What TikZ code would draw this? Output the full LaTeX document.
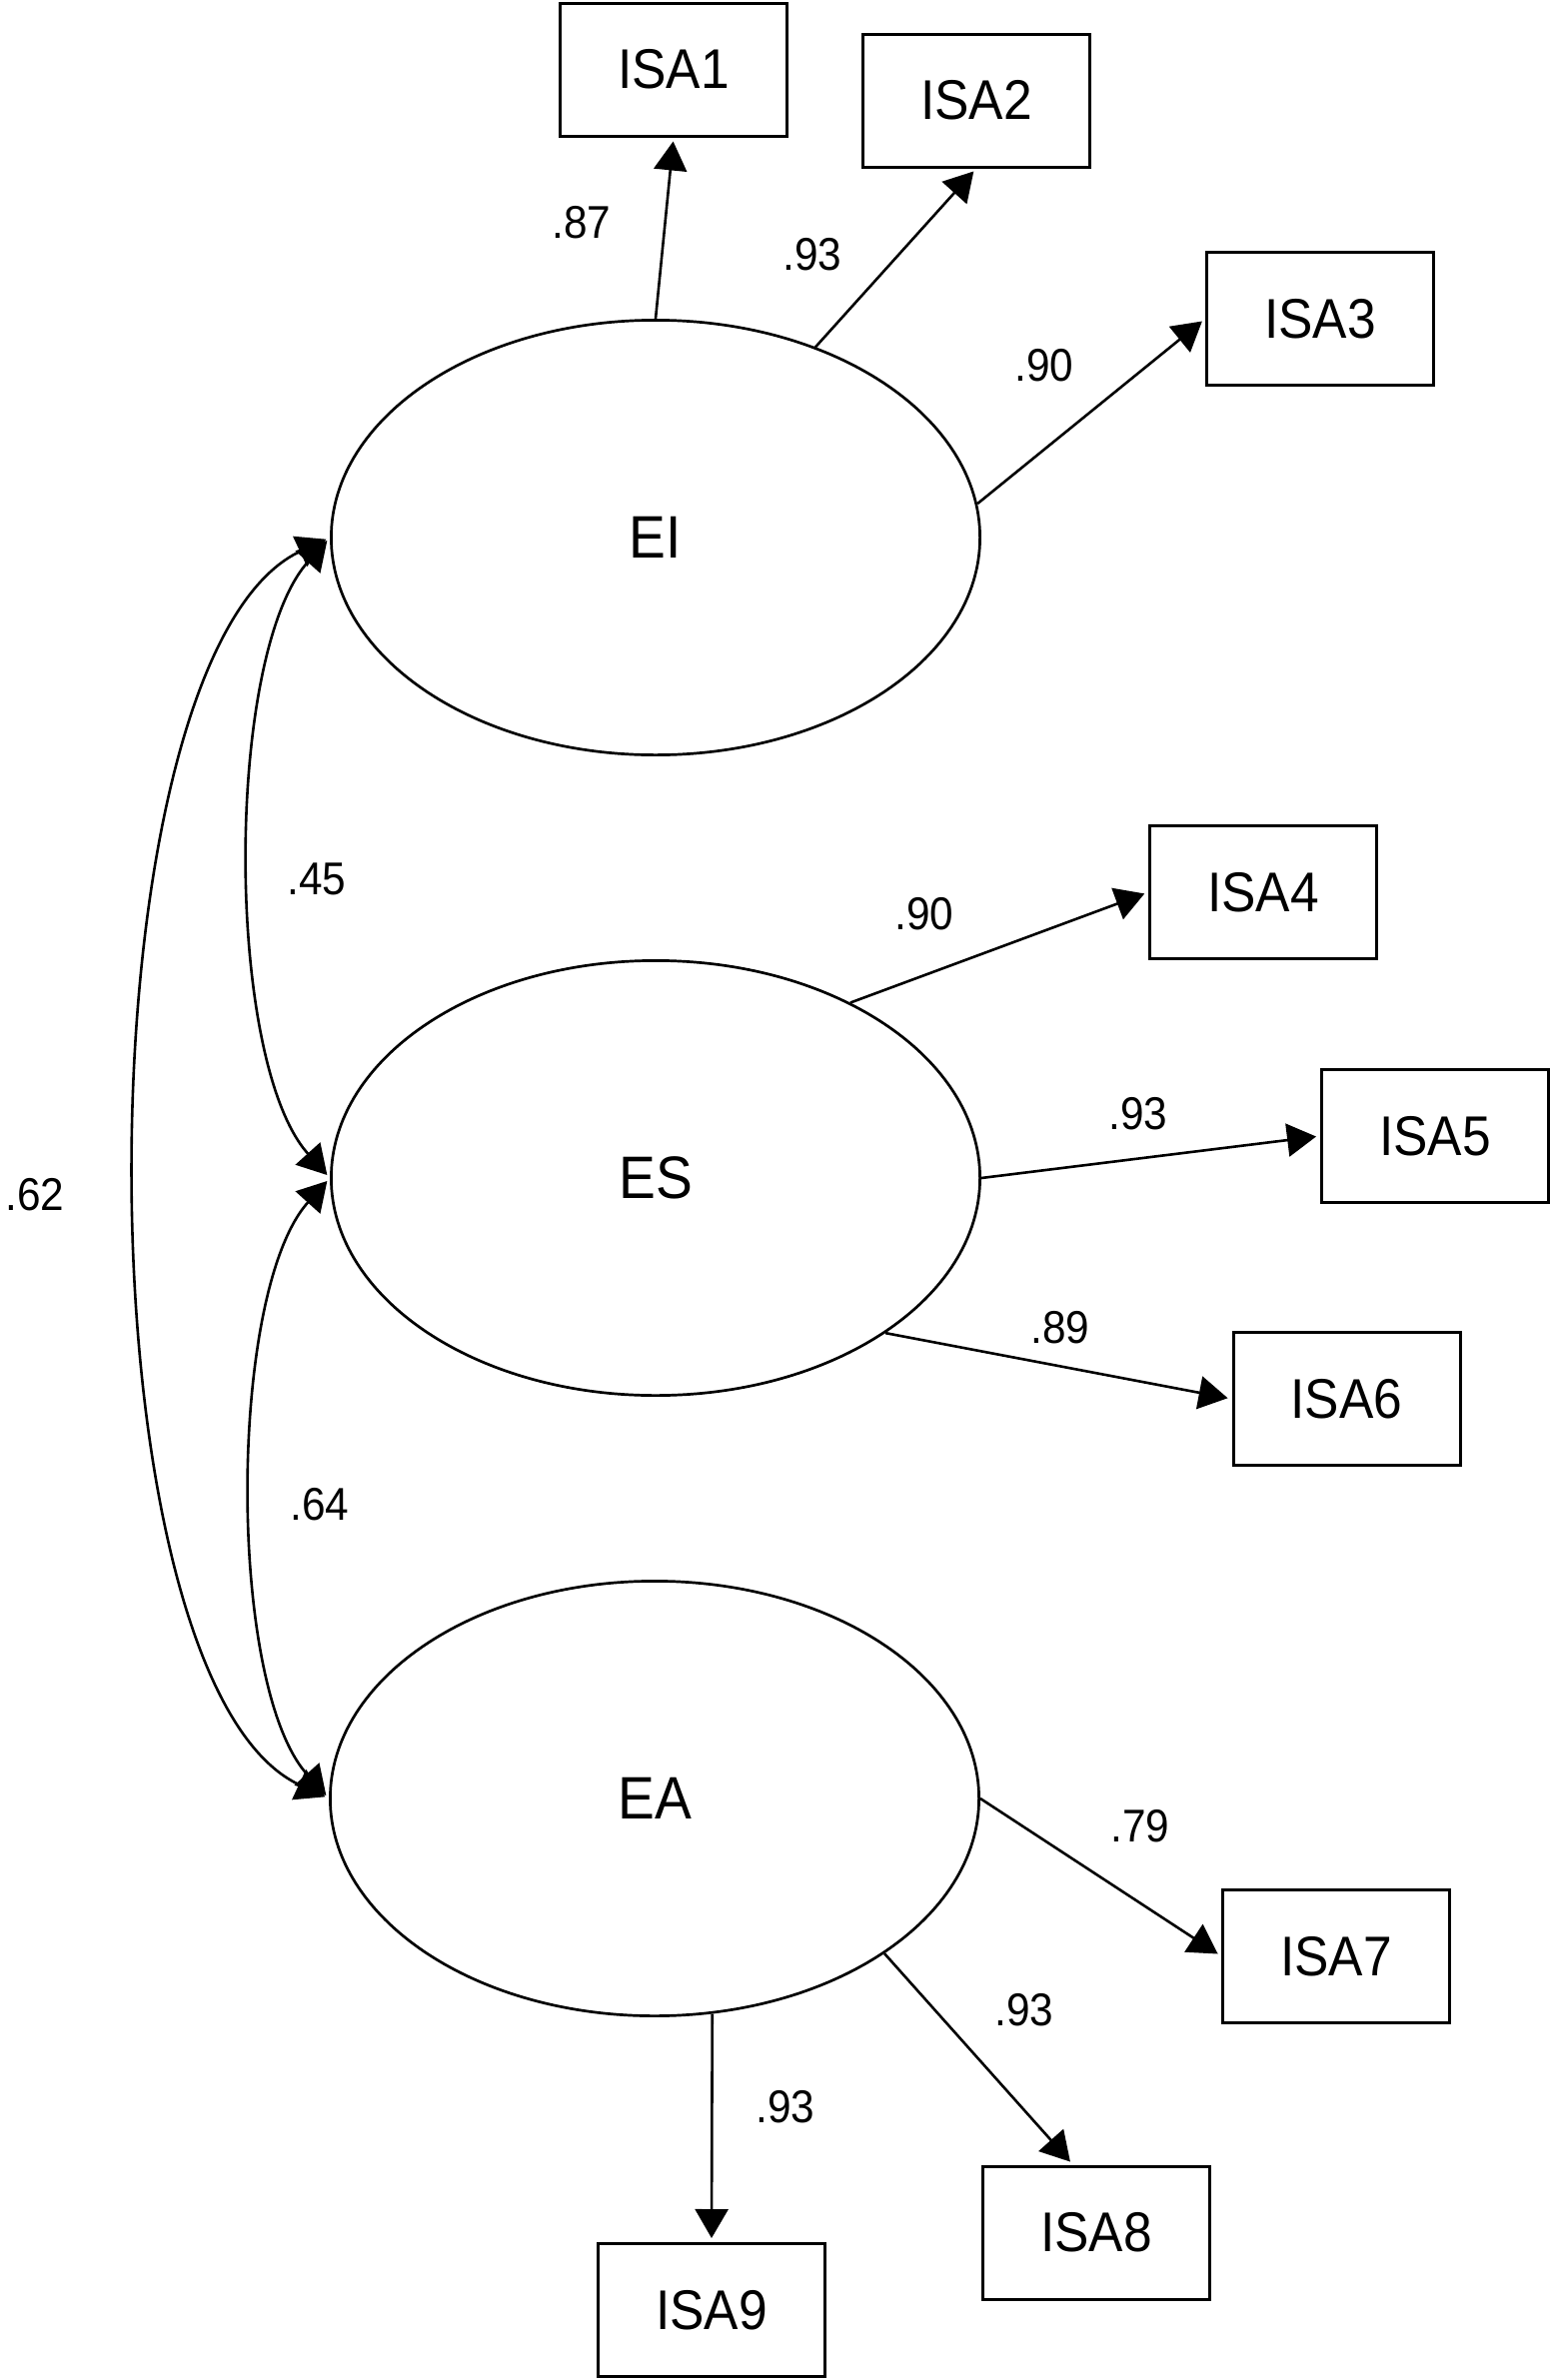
\documentclass[tikz,border=0pt]{standalone}
\usepackage{fontspec}
\newfontfamily\isafont[FakeStretch=0.92]{Liberation Sans}
\usetikzlibrary{arrows.meta,shapes.geometric}

\begin{document}
\begin{tikzpicture}[x=0.5pt,y=0.5pt,
  latent/.style={draw,ellipse,line width=1.35pt,inner sep=0pt,minimum width=324.6pt,minimum height=217.6pt,font=\isafont\fontsize{30}{30}\selectfont},
  indicator/.style={draw,rectangle,line width=1.5pt,inner sep=0pt,minimum width=113.5pt,minimum height=66.5pt,font=\isafont\fontsize{28}{28}\selectfont},
  coef/.style={inner sep=0pt,font=\isafont\fontsize{23}{23}\selectfont},
  loading/.style={line width=1.3pt,-{Triangle[length=14.5pt,width=16.5pt]},shorten >=2pt},
  covar/.style={line width=1.3pt,{Triangle[length=14.5pt,width=16.5pt]}-{Triangle[length=14.5pt,width=16.5pt]},shorten >=2pt,shorten <=2pt}]
\fill[white] (0,0) rectangle (1553,-2382);
% factors
\node[latent] (EI) at (656,-538) {EI};
\node[latent] (ES) at (656,-1179) {ES};
\node[latent] (EA) at (655,-1800) {EA};
% items
\foreach \n/\x/\y in {1/674/69.5, 2/977/100.5, 3/1321/319, 4/1264/893, 5/1436/1137, 6/1347.5/1400, 7/1337/1957.7, 8/1097/2234.5, 9/712/2312}
  \node[indicator] (ISA\n) at (\x,-\y) {ISA\n};
\draw[loading] (EI.north) -- (ISA1.south);
\draw[loading] (EI.50) -- (ISA2.south);
\draw[loading] (EI.6) -- (ISA3.west);
\draw[loading] (ES.42) -- (ISA4.west);
\draw[loading] (ES.east) -- (ISA5.west);
\draw[loading] (ES.-34) -- (ISA6.west);
\draw[loading] (EA.east) -- (ISA7.west);
\draw[loading] (EA.-34) -- (ISA8.109);
\draw[loading] (EA.-75) -- (ISA9.north);
% correlations
\draw[covar] (EI.west) to[out=228,in=132,looseness=0.63] (ES.west);
\draw[covar] (ES.west) to[out=228,in=132,looseness=0.63] (EA.west);
\draw[covar] (EI.west) to[out=205,in=155,looseness=0.57] (EA.west);
\foreach \i/\x/\y/\v in {1/582/223/.87, 2/813/255/.93, 3/1045/366/.90, 4/925/915/.90, 5/1139/1115/.93, 6/1061/1329/.89, 7/1141/1828/.79, 8/1025/2012/.93, 9/786/2109/.93, 10/317/880/.45, 11/320/1506/.64, 12/35/1196/.62}
  \node[coef] (w\i) at (\x,-\y) {\v};
\end{tikzpicture}
\end{document}
